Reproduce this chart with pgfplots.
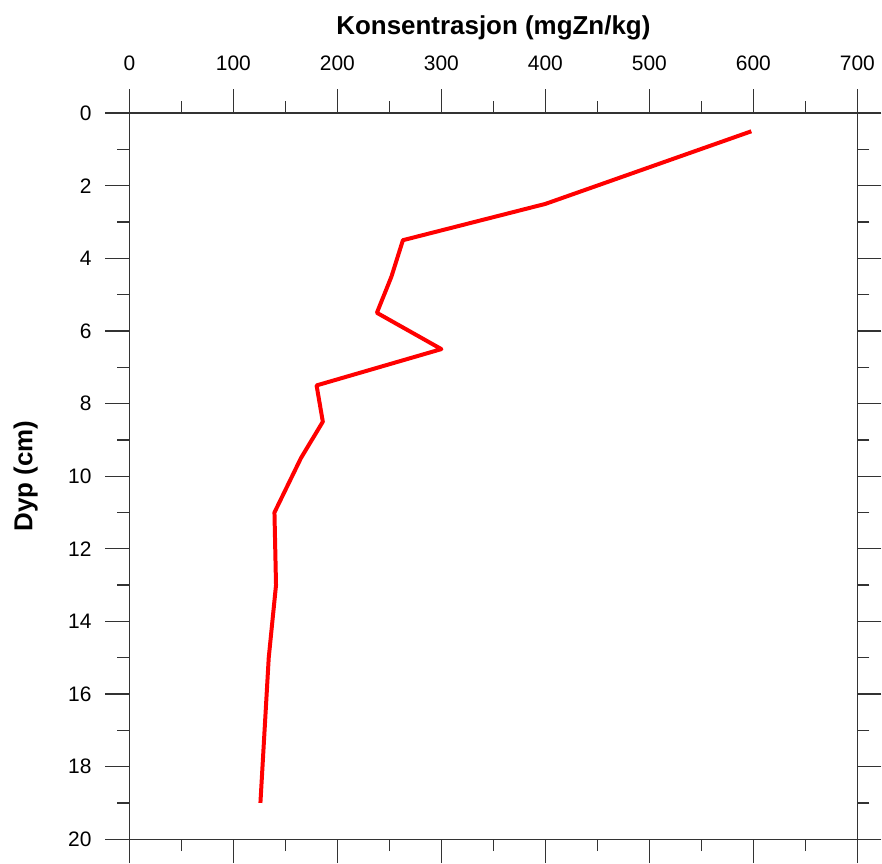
\documentclass[border=0pt]{standalone}
\usepackage{fontspec}
\setmainfont{Liberation Sans}
\usepackage{pgfplots}
\pgfplotsset{compat=1.18}

\begin{document}
\begin{tikzpicture}
	\begin{axis}[
		scale only axis,
		width=365pt,
		height=364pt,
		xmin=0, xmax=700,
		ymin=0, ymax=20,
		y dir=reverse,
		xtick={0,100,...,700},
		ytick={0,2,...,20},
		minor x tick num=1,
		minor y tick num=1,
		tick align=outside,
		tick pos=both,
		xticklabel pos=right,
		major tick length=12pt,
		minor tick length=6pt,
		axis line style={black!80, line width=0.65pt},
		every tick/.style={black!80, line width=0.65pt},
		every minor tick/.style={black!80, line width=0.65pt},
		ticklabel style={font=\fontsize{10.5}{12}\selectfont},
		xticklabel style={yshift=5.5pt, inner xsep=1pt},
		yticklabel style={xshift=-3.5pt},
		/pgf/number format/assume math mode=true,
		xlabel={\textbf{Konsentrasjon (mgZn/kg)}},
		ylabel={\textbf{Dyp (cm)}},
		label style={font=\fontsize{13}{15}\selectfont},
		xlabel style={at={(axis description cs:0.5,1)}, anchor=base, yshift=39.5pt, inner ysep=7.8pt},
		ylabel style={at={(axis description cs:0,0.5)}, anchor=center, yshift=52pt, inner ysep=6.8pt},
	]
		\addplot[red, line width=2pt, line join=round] coordinates {
			(598,0.5) (400,2.5) (263,3.5) (252,4.5) (238,5.5) (300,6.5)
			(180,7.5) (186,8.5) (165,9.5) (139.5,11) (141,13) (134,15) (126,19)
		};
	\end{axis}
\end{tikzpicture}
\end{document}
